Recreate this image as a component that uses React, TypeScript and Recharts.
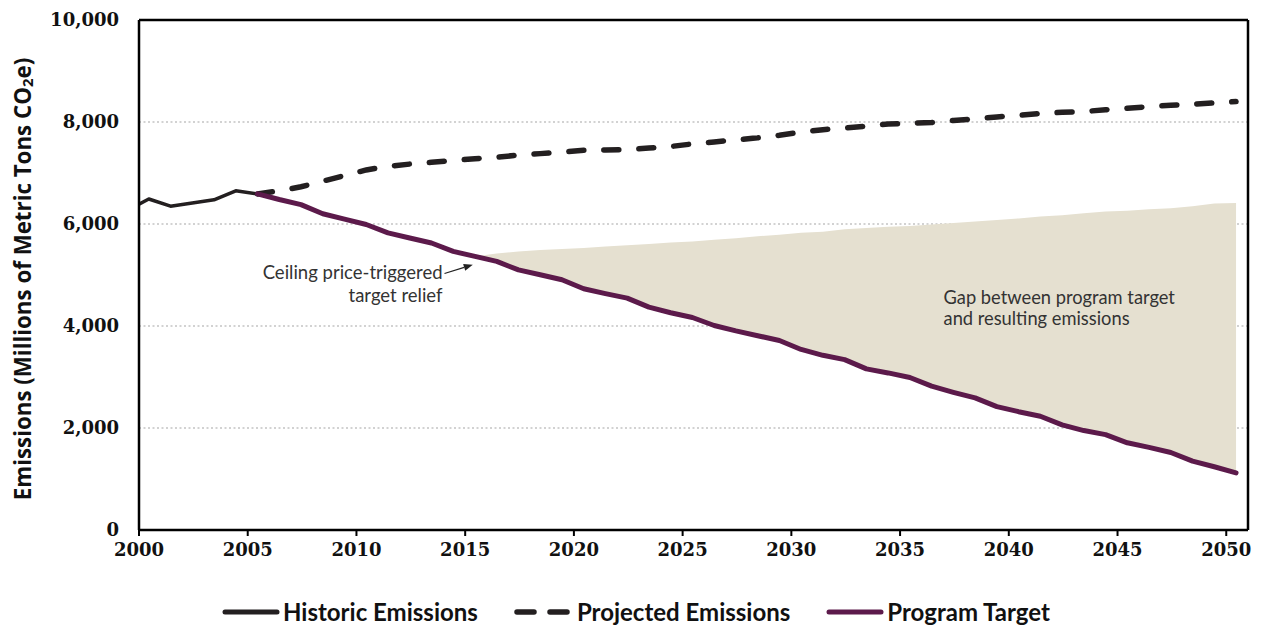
import React from 'react';
import {
  ComposedChart,
  Line,
  Area,
  XAxis,
  YAxis,
  CartesianGrid,
  ReferenceLine,
  Legend,
} from 'recharts';

// ---------- data (millions of metric tons CO2e) ----------
const years = [
  2000, 2001, 2002, 2003, 2004, 2005, 2006, 2007, 2008, 2009,
  2010, 2011, 2012, 2013, 2014, 2015, 2016, 2017, 2018, 2019,
  2020, 2021, 2022, 2023, 2024, 2025, 2026, 2027, 2028, 2029,
  2030, 2031, 2032, 2033, 2034, 2035, 2036, 2037, 2038, 2039,
  2040, 2041, 2042, 2043, 2044, 2045, 2046, 2047, 2048, 2049, 2050,
];

// value where the historic line enters the plot at its left edge
const historicStart = 6390;
// 2000-2005
const historic = [6490, 6350, 6410, 6475, 6650, 6590];
// 2005-2050
const projected = [
  6590, 6650, 6730, 6840, 6950, 7060, 7130, 7175, 7210, 7245,
  7280, 7310, 7350, 7380, 7410, 7445, 7452, 7458, 7488, 7520,
  7570, 7610, 7650, 7690, 7740, 7800, 7850, 7880, 7920, 7960,
  7975, 7990, 8030, 8060, 8100, 8130, 8165, 8190, 8205, 8240,
  8270, 8300, 8330, 8350, 8375, 8400,
];
// 2005-2050
const target = [
  6590, 6480, 6380, 6200, 6095, 5990, 5825, 5725, 5627, 5463,
  5365, 5266, 5100, 5004, 4907, 4730, 4634, 4547, 4370, 4260,
  4167, 4010, 3905, 3810, 3716, 3540, 3425, 3340, 3160, 3080,
  2990, 2820, 2700, 2590, 2420, 2320, 2230, 2060, 1950, 1870,
  1710, 1620, 1520, 1350, 1240, 1120,
];
// resulting emissions with ceiling-price relief, 2015-2050
const resulting = [
  5365, 5420, 5463, 5490, 5509, 5529, 5560, 5585, 5610, 5635,
  5659, 5690, 5720, 5760, 5790, 5830, 5850, 5895, 5920, 5945,
  5960, 5990, 6020, 6050, 6080, 6110, 6145, 6170, 6210, 6245,
  6260, 6290, 6310, 6350, 6400, 6410,
];

const xTicks = [2000, 2005, 2010, 2015, 2020, 2025, 2030, 2035, 2040, 2045, 2050];
const yTicks = [0, 2000, 4000, 6000, 8000, 10000];

const legendLabels = ['Historic Emissions', 'Projected Emissions', 'Program Target'];
const annotationRelief = ['Ceiling price-triggered', 'target relief'];
const annotationGap = ['Gap between program target', 'and resulting emissions'];

// ---------- table ----------
const POINT_OFFSET = 0.45; // points sit slightly right of each year tick
const HIST_FROM = 2000;
const PROJ_FROM = 2005;
const RES_FROM = 2015;

type Row = {
  x: number;
  historic?: number | null;
  projected?: number | null;
  target?: number | null;
  gap?: [number, number] | null;
};

const table: Row[] = [{ x: years[0], historic: historicStart }];
years.forEach((y) => {
  const hi = y - HIST_FROM;
  const pi = y - PROJ_FROM;
  const ri = y - RES_FROM;
  table.push({
    x: y + POINT_OFFSET,
    historic: hi >= 0 && hi < historic.length ? historic[hi] : null,
    projected: pi >= 0 && pi < projected.length ? projected[pi] : null,
    target: pi >= 0 && pi < target.length ? target[pi] : null,
    gap: ri >= 0 && ri < resulting.length ? [target[pi], resulting[ri]] : null,
  });
});

// ---------- styles ----------
const BLACK = '#231F20';
const PURPLE = '#5C1A4B';
const BEIGE = '#E5E0D0';
const TICK_FONT = 'DejaVu Serif, serif';
const SANS = 'Lato, "Open Sans", sans-serif';
const TITLE_FONT = '"Open Sans", Lato, sans-serif';

const W = 1257;
const H = 619;

const fmt = (v: number) => v.toLocaleString('en-US');

const YTitle = () => (
  <text
    x={0}
    y={0}
    transform={`translate(14, 271) rotate(-90)`}
    textAnchor="middle"
    dominantBaseline="central"
    fontFamily={TITLE_FONT}
    fontWeight={700}
    fontSize={22.3}
    fill="#111"
  >
    Emissions (Millions of Metric Tons CO
    <tspan fontSize={15} dy={5}>2</tspan>
    <tspan dy={-5}>e)</tspan>
  </text>
);

const ArrowShape = (p: any) => {
  const { x1, y1, x2, y2 } = p;
  const ang = Math.atan2(y2 - y1, x2 - x1);
  const L = 9;
  const Wd = 3.5;
  const bx = x2 - L * Math.cos(ang);
  const by = y2 - L * Math.sin(ang);
  const nx = -Math.sin(ang) * Wd;
  const ny = Math.cos(ang) * Wd;
  return (
    <g>
      <line x1={x1} y1={y1} x2={bx} y2={by} stroke="#222" strokeWidth={1.2} />
      <polygon points={`${x2},${y2} ${bx + nx},${by + ny} ${bx - nx},${by - ny}`} fill="#222" />
      <text
        x={x1 - 2}
        y={y1}
        textAnchor="end"
        fontFamily={SANS}
        fontSize={18.5}
        fill="#333"
      >
        <tspan x={x1 - 2} dy={6}>{annotationRelief[0]}</tspan>
        <tspan x={x1 - 2} dy={23}>{annotationRelief[1]}</tspan>
      </text>
    </g>
  );
};

const GapText = (p: any) => {
  const { x1, y1 } = p;
  return (
    <text x={x1} y={y1} fontFamily={SANS} fontSize={18.3} fill="#333">
      <tspan x={x1} dy={6}>{annotationGap[0]}</tspan>
      <tspan x={x1} dy={21}>{annotationGap[1]}</tspan>
    </text>
  );
};

const LegendContent = () => {
  const item = (swatch: React.ReactNode, label: string, gapAfter: number) => (
    <div style={{ display: 'flex', alignItems: 'center', marginRight: gapAfter }}>
      {swatch}
      <span style={{ marginLeft: 3 }}>{label}</span>
    </div>
  );
  return (
    <div
      style={{
        display: 'flex',
        justifyContent: 'center',
        alignItems: 'center',
        height: 20,
        paddingLeft: 16,
        fontFamily: SANS,
        fontWeight: 700,
        fontSize: 24,
        color: '#111',
        lineHeight: '20px',
      }}
    >
      {item(
        <svg width={58} height={10}>
          <line x1={3} y1={5} x2={55} y2={5} stroke={BLACK} strokeWidth={5} strokeLinecap="round" />
        </svg>,
        legendLabels[0],
        36
      )}
      {item(
        <svg width={60} height={10}>
          <line x1={3} y1={5} x2={57} y2={5} stroke={BLACK} strokeWidth={5.5} strokeLinecap="round" strokeDasharray="17 16" />
        </svg>,
        legendLabels[1],
        36
      )}
      {item(
        <svg width={58} height={10}>
          <line x1={3} y1={5} x2={55} y2={5} stroke={PURPLE} strokeWidth={5} strokeLinecap="round" />
        </svg>,
        legendLabels[2],
        0
      )}
    </div>
  );
};

export default function App() {
  return (
    <div style={{ width: W, height: H }}>
      <ComposedChart
        width={W}
        height={H}
        data={table}
        margin={{ top: 12, right: 17, bottom: 0, left: 0 }}
      >
        <CartesianGrid
          vertical={false}
          stroke="#C4C4C4"
          strokeDasharray="2 2.5"
          strokeWidth={1.5}
        />
        <XAxis
          dataKey="x"
          type="number"
          domain={[2000, 2051]}
          ticks={xTicks}
          allowDataOverflow
          height={77}
          axisLine={{ stroke: '#000', strokeWidth: 2.5 }}
          tickLine={{ stroke: '#000', strokeWidth: 2 }}
          tickSize={6}
          tickMargin={7}
          tick={{ fontFamily: TICK_FONT, fontWeight: 700, fontSize: 18, fill: '#111' }}
          interval={0}
        />
        <YAxis
          type="number"
          domain={[0, 10000]}
          ticks={yTicks}
          width={131}
          axisLine={{ stroke: '#000', strokeWidth: 2.5 }}
          tickLine={false}
          tickSize={0}
          tickMargin={20}
          tickFormatter={fmt}
          tick={{ fontFamily: TICK_FONT, fontWeight: 700, fontSize: 18, fill: '#111' }}
          label={{ content: () => <YTitle /> }}
        />
        <ReferenceLine y={10000} stroke="#000" strokeWidth={2.5} />
        <ReferenceLine x={2051} stroke="#000" strokeWidth={2.5} />
        <Area
          dataKey="gap"
          type="linear"
          stroke="none"
          fill={BEIGE}
          fillOpacity={1}
          isAnimationActive={false}
          connectNulls={false}
          legendType="none"
          activeDot={false}
        />
        <Line
          dataKey="historic"
          type="linear"
          stroke={BLACK}
          strokeWidth={3.5}
          dot={false}
          activeDot={false}
          strokeLinejoin="round"
          isAnimationActive={false}
        />
        <Line
          dataKey="projected"
          type="linear"
          stroke={BLACK}
          strokeWidth={5.5}
          strokeDasharray="15 20"
          strokeLinecap="round"
          dot={false}
          activeDot={false}
          isAnimationActive={false}
        />
        <Line
          dataKey="target"
          type="linear"
          stroke={PURPLE}
          strokeWidth={5}
          strokeLinejoin="round"
          strokeLinecap="round"
          dot={false}
          activeDot={false}
          isAnimationActive={false}
        />
        <ReferenceLine
          segment={[
            { x: 2014.05, y: 5030 },
            { x: 2015.35, y: 5200 },
          ]}
          shape={ArrowShape}
        />
        <ReferenceLine
          segment={[
            { x: 2037.0, y: 4553 },
            { x: 2037.1, y: 4553 },
          ]}
          shape={GapText}
        />
        <Legend
          verticalAlign="bottom"
          content={() => <LegendContent />}
          wrapperStyle={{ bottom: 5 }}
        />
      </ComposedChart>
    </div>
  );
}
